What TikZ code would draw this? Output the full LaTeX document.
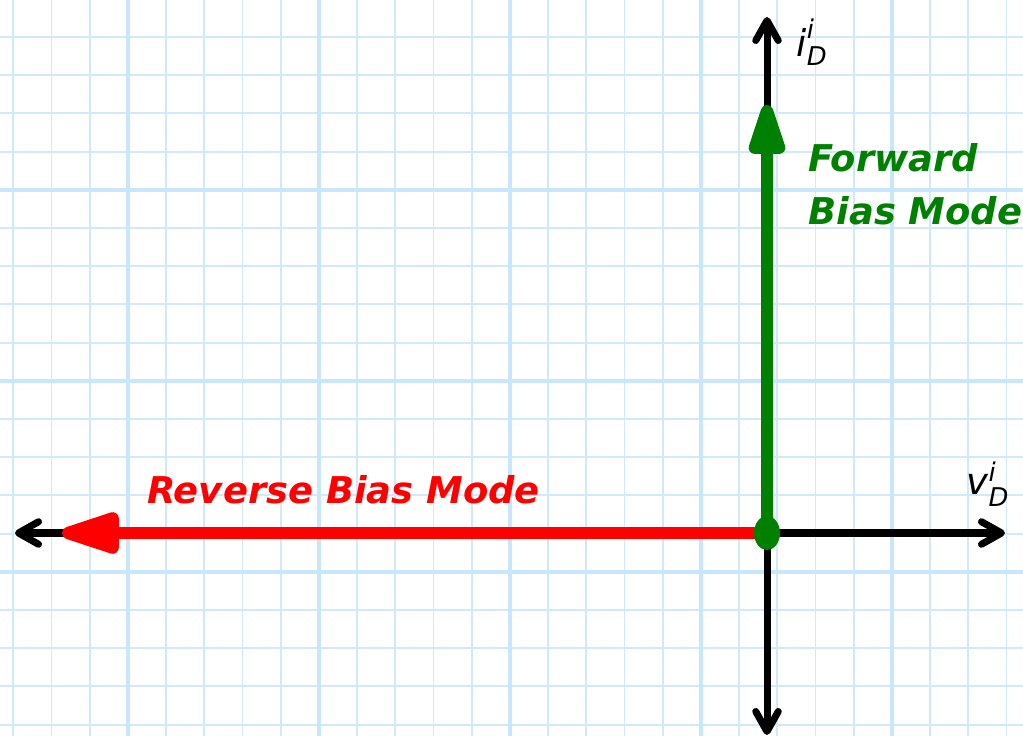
\documentclass[tikz,border=0pt]{standalone}
\usepackage{fontspec}
\usepackage{amsmath}
\setmainfont{DejaVu Sans}
\usetikzlibrary{arrows.meta}
\definecolor{gridmin}{HTML}{D0EAFA}
\definecolor{gridmaj}{HTML}{C9E7FB}
\definecolor{fwdgreen}{HTML}{008000}
\definecolor{revred}{HTML}{FF0000}

\begin{document}
\begin{tikzpicture}[x=0.02cm,y=-0.02cm,
  minor/.style={draw=gridmin,line width=1.1pt},
  major/.style={draw=gridmaj,line width=2.2pt},
  axis/.style={line width=4pt,draw=black,{Straight Barb[length=4mm,width=4.5mm,round]}-{Straight Barb[length=4mm,width=4.5mm,round]}},
  fwdarrow/.style={line width=7pt,draw=fwdgreen,fill=fwdgreen,-{Triangle[length=13mm,width=7.5mm,round]}},
  revarrow/.style={line width=7pt,draw=revred,fill=revred,-{Triangle[length=14.5mm,width=8.5mm,round]}},
  mode/.style={text=#1,font=\fontsize{21}{30}\selectfont\bfseries\itshape,inner sep=0pt},
  axlbl/.style={font=\fontsize{21}{21}\selectfont,inner sep=0pt}]
\useasboundingbox (0,0) rectangle (1023,736);
% graph paper
\foreach \k in {0,...,26} \draw[minor] ({13.3+38.2*\k},0)--({13.3+38.2*\k},736);
\foreach \k in {0,...,18} \draw[minor] (0,{37+38.2*\k})--(1023,{37+38.2*\k});
\foreach \k in {3,8,...,23} \draw[major] ({13.3+38.2*\k},0)--({13.3+38.2*\k},736);
\foreach \k in {4,9,14} \draw[major] (0,{37+38.2*\k})--(1023,{37+38.2*\k});
\def\ox{767}\def\oy{533}
\coordinate (O) at (\ox,\oy);
\coordinate (xl) at (15,\oy); \coordinate (xr) at (1005,\oy);
\coordinate (yt) at (\ox,17); \coordinate (yb) at (\ox,735);
\coordinate (fwdtip) at (\ox,105); \coordinate (revtip) at (62,\oy);
\draw[axis](xl)--(xr);
\draw[axis](yb)--(yt);
\draw[revarrow](O)--(revtip);
\draw[fwdarrow](O)--(fwdtip);
\fill[fwdgreen](O) ellipse[x radius=0.26cm,y radius=0.34cm];
\node[mode=fwdgreen,anchor=north west,align=left](fwd) at (808,143){Forward\\Bias Mode};
\node[mode=revred,anchor=base west](rev) at (147,503){Reverse Bias Mode};
\node[axlbl](ilbl) at (812,42){$\textit{i}_{\textit{D}}^{\textit{i}}$};
\node[axlbl](vlbl) at (988,484){$\textit{v}_{\textit{D}}^{\textit{i}}$};
\end{tikzpicture}
\end{document}
